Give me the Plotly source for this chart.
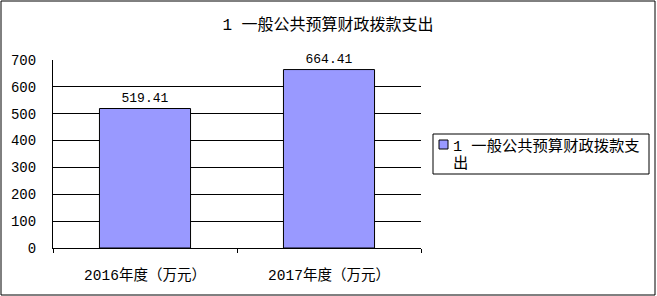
import plotly.graph_objects as go

categories = ["2016年度（万元）", "2017年度（万元）"]
values = [519.41, 664.41]
value_labels = ["519.41", "664.41"]
legend_line1 = "1 一般公共预算财政拨款支"
legend_line2 = "出"
title_text = "1 一般公共预算财政拨款支出"
y_ticks = [0, 100, 200, 300, 400, 500, 600, 700]

MIX = "Liberation Mono, Noto Sans CJK SC"
W, H = 657, 296
L, R, T, B = 53, 421, 60, 248
pw, ph = R - L, B - T
BAR_COLOR = "#9999FF"

def px(x):
    return (x - L) / pw

def py(y):
    return (B - y) / ph

fig = go.Figure()
fig.add_trace(go.Bar(
    x=categories, y=values, name=legend_line1 + legend_line2,
    text=value_labels, textposition="outside", cliponaxis=False,
    textfont=dict(family=MIX, size=13, color="black"),
    marker=dict(color=BAR_COLOR, line=dict(color="black", width=1)),
    width=0.495, showlegend=False,
))

fig.update_layout(
    width=W, height=H,
    margin=dict(l=L, r=W - R, t=T, b=H - B, autoexpand=False),
    paper_bgcolor="white", plot_bgcolor="white",
    font=dict(family=MIX, size=14, color="black"),
    title=dict(text=title_text, x=328 / W, xanchor="center", y=1 - 24 / H, yanchor="middle",
               font=dict(family=MIX, size=16, color="black")),
    showlegend=False,
)
fig.update_yaxes(range=[0, 700], tickvals=y_ticks, showgrid=True, gridcolor="black", gridwidth=1,
                 showline=True, linecolor="black", linewidth=1, ticks="", zeroline=False,
                 ticklabelstandoff=13, tickfont=dict(family=MIX, size=14, color="black"),
                 fixedrange=True)
fig.update_xaxes(showline=True, linecolor="black", linewidth=1, ticks="outside", ticklen=4,
                 tickcolor="black", tickson="boundaries", showgrid=False,
                 ticklabelstandoff=14, tickfont=dict(family=MIX, size=14.5, color="black"))

# outer border
fig.add_shape(type="rect", xref="paper", yref="paper",
              x0=px(1), x1=px(655), y0=py(295), y1=py(1),
              line=dict(color="black", width=1), fillcolor="rgba(0,0,0,0)", layer="above")
# legend box
fig.add_shape(type="rect", xref="paper", yref="paper",
              x0=px(433), x1=px(649), y0=py(174), y1=py(134),
              line=dict(color="black", width=1), fillcolor="white", layer="above")
# legend symbol
fig.add_shape(type="rect", xref="paper", yref="paper",
              x0=px(439), x1=px(448), y0=py(149), y1=py(140),
              line=dict(color="black", width=1), fillcolor=BAR_COLOR, layer="above")
fig.add_annotation(text=legend_line1, xref="paper", yref="paper", x=px(451), y=py(146),
                   xanchor="left", yanchor="middle", showarrow=False,
                   font=dict(family=MIX, size=15.3, color="black"))
fig.add_annotation(text=legend_line2, xref="paper", yref="paper", x=px(451), y=py(164),
                   xanchor="left", yanchor="middle", showarrow=False,
                   font=dict(family=MIX, size=15.3, color="black"))

fig.write_html("out.html")
